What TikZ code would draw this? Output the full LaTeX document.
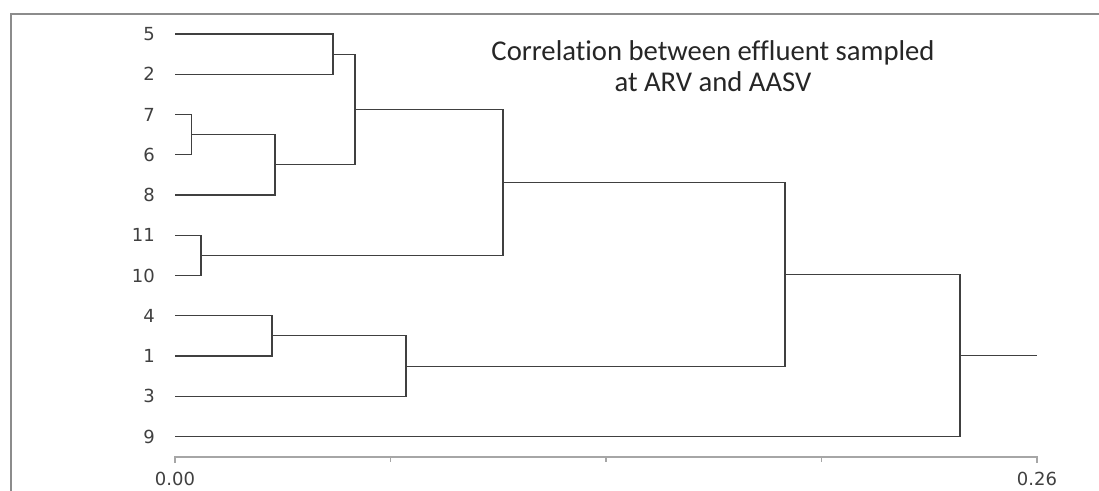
\documentclass[tikz,border=0pt]{standalone}
\usepackage{fontspec}
\usepackage{tikz}
\usetikzlibrary{positioning, calc}
\newfontfamily\labelfont{DejaVu Sans}
\newfontfamily\titlefont[Ligatures=NoCommon]{Carlito}
\definecolor{linegray}{HTML}{404040}
\definecolor{axisgray}{HTML}{A6A6A6}
\definecolor{framegray}{HTML}{8C8C8C}
\definecolor{textgray}{HTML}{404040}

\begin{document}
\begin{tikzpicture}[x=0.75pt, y=-0.75pt,
    leaf/.style={font=\labelfont\fontsize{13.5}{16}\selectfont, text=textgray, anchor=east, inner sep=0pt},
    ticklabel/.style={font=\labelfont\fontsize{13.5}{16}\selectfont, text=textgray, anchor=center, inner sep=0pt},
    branch/.style={linegray, line width=0.8pt}]
  \useasboundingbox (0,0) rectangle (1099,491);

  % Chart frame (only top and left edges show)
  \draw[framegray, line width=1.6pt] (11,491) -- (11,14) -- (1099,14);

  % Title
  \node[font=\titlefont\fontsize{21.5}{23.3}\selectfont, text=black!85, align=center] (title) at (713,66)
    {Correlation between effluent sampled\\at ARV and AASV};

  % Leaves: labels and line ends, top to bottom
  \foreach \k/\lab in {0/5, 1/2, 2/7, 3/6, 4/8, 5/11, 6/10, 7/4, 8/1, 9/3, 10/9} {
    \node[leaf] (n\lab) at (155, {34+40.25*\k}) {\lab};
    \coordinate (l\lab) at (175, {34+40.25*\k});
  }

  % Merge points
  \coordinate (a) at (333,54.1);
  \coordinate (b) at (191.5,134.6);
  \coordinate (c) at (275,164.8);
  \coordinate (d) at (355,109.5);
  \coordinate (e) at (201,255.4);
  \coordinate (f) at (503,182.5);
  \coordinate (g) at (272,335.9);
  \coordinate (h) at (406,366.1);
  \coordinate (i) at (785,274.3);
  \coordinate (j) at (960,355.4);
  \coordinate (root) at (1037,355.4);

  % Dendrogram branches
  \draw[branch] (l5) -| (a) |- (l2);
  \draw[branch] (l7) -| (b) |- (l6);
  \draw[branch] (b) -| (c) |- (l8);
  \draw[branch] (a) -| (d) |- (c);
  \draw[branch] (l11) -| (e) |- (l10);
  \draw[branch] (d) -| (f) |- (e);
  \draw[branch] (l4) -| (g) |- (l1);
  \draw[branch] (g) -| (h) |- (l3);
  \draw[branch] (f) -| (i) |- (h);
  \draw[branch] (i) -| (j) |- (l9);
  \draw[branch] (j) -- (root);

  % Distance axis
  \coordinate (ax0) at (175,457);
  \coordinate (ax1) at (1037,457);
  \draw[axisgray, line width=0.8pt] ($(ax0)+(0,6)$) -- (ax0) -- (ax1) -- ($(ax1)+(0,6)$);
  \foreach \t in {1,2,3} {
    \draw[axisgray, line width=0.8pt] ($(ax0)!\t/4!(ax1)$) -- ++(0,5);
  }
  \node[ticklabel] (t0) at (175,479) {0.00};
  \node[ticklabel] (t1) at (1037,479) {0.26};
\end{tikzpicture}
\end{document}
